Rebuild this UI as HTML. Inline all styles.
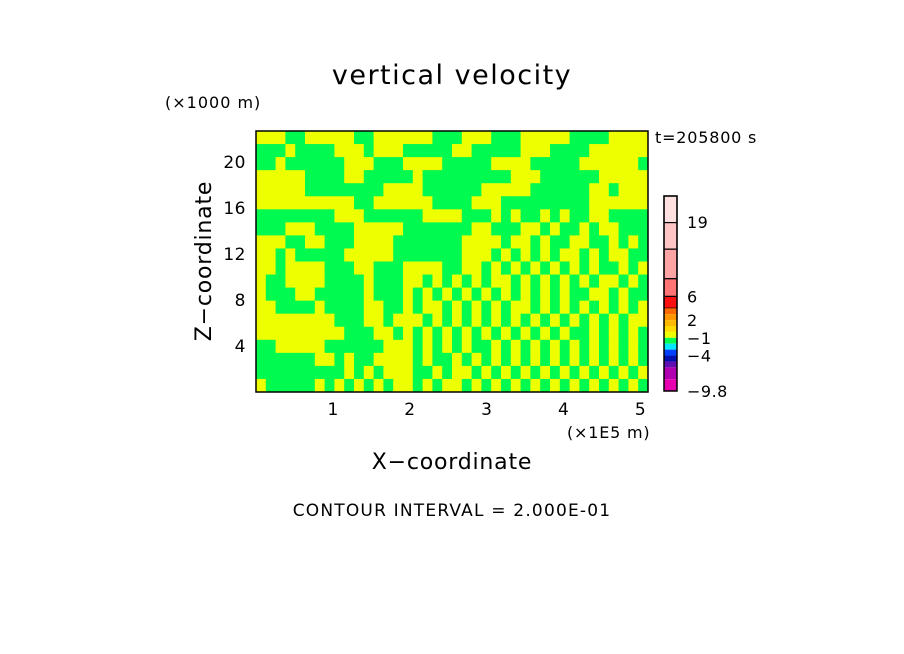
<!DOCTYPE html>
<html><head><meta charset="utf-8"><style>
body{margin:0;background:#fff;}
svg{display:block;font-family:"DejaVu Sans","Liberation Sans",sans-serif;}
</style></head><body>
<svg id="chart" width="904" height="654" xmlns="http://www.w3.org/2000/svg">
<rect width="904" height="654" fill="#fff"/>
<text x="452" y="84" font-size="27" letter-spacing="1.5" text-anchor="middle">vertical velocity</text>
<text x="165" y="108" font-size="16" letter-spacing="1">(×1000 m)</text>
<text x="655" y="143" font-size="16" letter-spacing="0.8">t=205800 s</text>
<text x="567" y="438" font-size="16" letter-spacing="0.8">(×1E5 m)</text>
<text x="452" y="469" font-size="22" letter-spacing="0.8" text-anchor="middle">X−coordinate</text>
<text transform="translate(211,261) rotate(-90)" font-size="22" letter-spacing="0.8" text-anchor="middle">Z−coordinate</text>
<text x="452" y="516" font-size="17" letter-spacing="1.2" text-anchor="middle">CONTOUR INTERVAL = 2.000E-01</text>
<g id="field"></g>
<g id="axes"></g>
<g id="cbar"></g>
</svg>
<script>
const xTicks=[1,2,3,4,5];
const yTicks=[4,8,12,16,20];
const xMax=5.1, yMax=22.7;
const fieldRows=[
"YYYGGYYYYYGGYYYYYYGGGYYYGGGYYYYYGGGGYYYY",
"GGGYGGGGYYYGYYYGGGGGYYGGGGGYYYGGGGYYYYYY",
"GGYGGGGGGYYYGGGYYYYGGGGGYYYYGGGGGYYYYYYG",
"YYYYYGGGGYYGGGGGYGGGGGGGGGYYYGGGGGGYYYYY",
"YYYYYGGGGGGGGYYYYGGGGGGYYYYYGGGGGGYYGYYY",
"YYYYYYYYYYGGYYYYYYGGGGYYYGGGGGGGGGYYYYYY",
"GGGGGGGGYYYGGGGGGYYYYGGGYGYGGYGYGGYYGGGG",
"GGGYYYGGGGYYYYYGGGGGGGYYGGGYYGYGGYGYYGGG",
"YYYGGYYGGGYYYYGGGGGGGYYYYGYYGYGGYYGGYGYG",
"YYGYGGGGGYYYYYGGGGGGGYYYGYGYGYGYYGYGYYGG",
"YYGYYYYGGGYYGGGYYYYGGYYGYGYGYGYGYGYGGYGY",
"YGGYYYYGGGGYGGGYYGYGYGYGYYGYGYGYGYGYYGYG",
"YGGGYYGGGGGYGGGYGYGYGYGYGYGYGYGYGGYYGYGG",
"YYGGGGYGGGGYYGGYGYYGYGYGYGYYGYGYGYGYGYGY",
"YYYYYYYYGGGYYGYYYGYGYGYGYGYGYGYGYGYGYGYY",
"YYYYYYYYYGGGYYGYGYGYGYGYGYGYGYGYGGYGYGYG",
"GGYYYYYGGGGGGYYYGYGYGYGGYGYGYGYGYGYGYGYG",
"GGGGGGYYGYGGYYYYGYGGYGYGYGYGYGYGYGYGYGYG",
"GGGGGGGGGYGYGYYYGGYGYYGYGYGYGYGYGYGYGYGY",
"YGGGGGYGYGYGYGYYGYGYYGYGYGYGYGYGYGYGYGYG"
];
const cbarColors=["#ffe0e0","#ffc4c4","#ffa4a4","#ff7474","#ff1010","#ff6a00","#ff9800","#ffb800","#ffdc00","#eeff00","#00ff50","#00e8ff","#0040ff","#0010b0","#6010b0","#b000b0","#e800b0"];
const cbarWeights=[9,9,10,6,4,2,2,2,2,2,2,2,2,2,2,4,4];
const cbarLabels=["19","6","2","\u22121","\u22124","\u22129.8"];
const cbarLabelIdx=[1,4,7,10,13,17];
const NS="http://www.w3.org/2000/svg";
const L=256,R=648,T=131,B=392;
const sx=v=>L+v/xMax*(R-L), sy=v=>B-v/yMax*(B-T);
function mk(t,a,p){const e=document.createElementNS(NS,t);for(const k in a)e.setAttribute(k,a[k]);p.appendChild(e);return e;}
const field=document.getElementById('field');
const nr=fieldRows.length,nc=fieldRows[0].length,cw=(R-L)/nc,ch=(B-T)/nr;
fieldRows.forEach((row,r)=>{for(let c=0;c<nc;c++){
 const e=mk('rect',{x:L+c*cw,y:T+r*ch,width:cw+0.5,height:ch+0.5,fill:row[c]==='Y'?'#eeff00':'#00fa50'},field);
 
 
}});
const axes=document.getElementById('axes');
const frame=mk('rect',{x:L,y:T,width:R-L,height:B-T,fill:'none',stroke:'#000','stroke-width':1.5},axes);


xTicks.forEach(v=>{const t=mk('text',{x:sx(v),y:415,'font-size':17,'text-anchor':'middle'},axes);t.textContent=v;
 
 });
yTicks.forEach(v=>{const t=mk('text',{x:246,y:sy(v)+6,'font-size':17,'text-anchor':'end','letter-spacing':0.5},axes);t.textContent=v;
 
 });
const cb=document.getElementById('cbar');
const cx=664,cwid=13,ctop=196,cbot=391;
const tw=cbarWeights.reduce((a,b)=>a+b,0);
const bounds=[ctop];let acc=0;
cbarWeights.forEach(w=>{acc+=w;bounds.push(ctop+acc/tw*(cbot-ctop));});
cbarColors.forEach((col,i)=>{const e=mk('rect',{x:cx,y:bounds[i],width:cwid,height:bounds[i+1]-bounds[i],fill:col,stroke:'#000','stroke-width':i<5?1.2:0},cb);
 
 });
mk('rect',{x:cx,y:ctop,width:cwid,height:cbot-ctop,fill:'none',stroke:'#000','stroke-width':1.5},cb);
cbarLabels.forEach((s,i)=>{const y=i===0?222:bounds[cbarLabelIdx[i]];
 const t=mk('text',{x:687,y:y+6,'font-size':16,'letter-spacing':0.5},cb);t.textContent=s;
 
 });
</script>
</body></html>
